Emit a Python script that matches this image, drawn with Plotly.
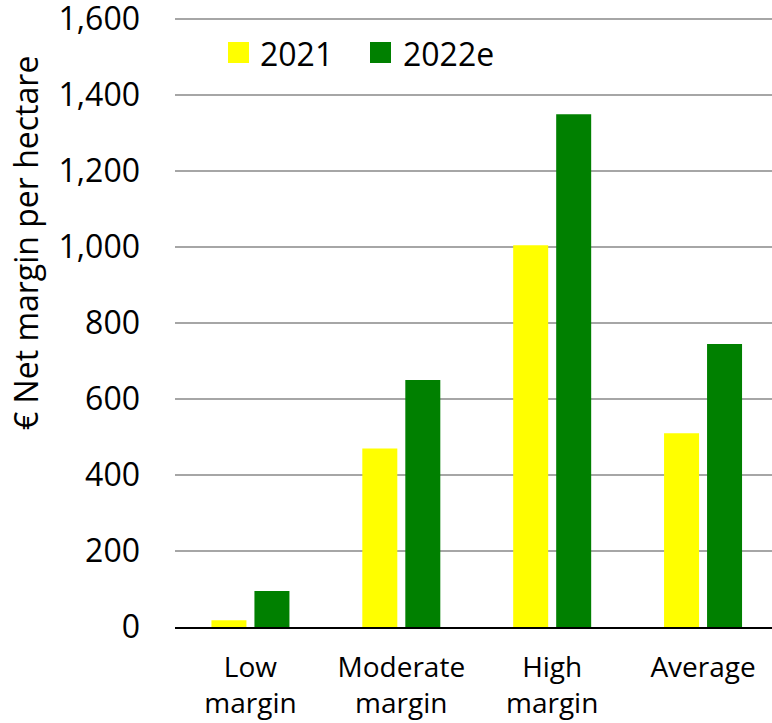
import plotly.graph_objects as go

# Net margin per hectare by farm group
categories = ["Low<br>margin", "Moderate<br>margin", "High<br>margin", "Average"]
series_names = ["2021", "2022e"]
values_2021 = [18, 470, 1005, 510]
values_2022e = [95, 650, 1350, 745]
series_colors = ["#FFFF00", "#008000"]
y_ticks = [0, 200, 400, 600, 800, 1000, 1200, 1400, 1600]
y_max = 1606  # a little headroom so the 1,600 gridline is not clipped

W, H = 772, 723
ML, MR, MT, MB = 175, 0, 17, 96
PW, PH = W - ML - MR, H - MT - MB

FONT = "Open Sans, Noto Sans, sans-serif"

fig = go.Figure()
for name, vals, col in zip(series_names, [values_2021, values_2022e], series_colors):
    fig.add_trace(go.Bar(
        x=list(range(len(categories))), y=vals, name=name,
        marker=dict(color=col, line=dict(width=0)),
        showlegend=False,
    ))


def px_x(p):
    return (p - ML) / PW


def px_y(p):
    return (H - MB - p) / PH


# Legend drawn as swatches + labels in the top-left area of the plot
legend_items = [(228, 258), (370, 401)]
shapes = []
annotations = []
for (sx, tx), name, col in zip(legend_items, series_names, series_colors):
    shapes.append(dict(type="rect", xref="paper", yref="paper",
                       x0=px_x(sx), x1=px_x(sx + 21),
                       y0=px_y(63), y1=px_y(42),
                       fillcolor=col, line=dict(width=0)))
    annotations.append(dict(xref="paper", yref="paper", x=px_x(tx), y=px_y(53),
                            text=name, showarrow=False, xanchor="left", yanchor="middle",
                            font=dict(family=FONT, size=32, color="black")))

annotations.append(dict(xref="paper", yref="paper", x=px_x(26), y=px_y(243),
                        text="€ Net margin per hectare", textangle=-90, showarrow=False,
                        xanchor="center", yanchor="middle",
                        font=dict(family=FONT, size=32, color="black")))

fig.update_layout(
    width=W, height=H,
    margin=dict(l=ML, r=MR, t=MT, b=MB, pad=0, autoexpand=False),
    paper_bgcolor="white", plot_bgcolor="white",
    barmode="group", bargap=0.43, bargroupgap=0.186,
    shapes=shapes, annotations=annotations,
    font=dict(family=FONT, color="black"),
)
fig.update_xaxes(
    tickmode="array", tickvals=list(range(len(categories))), ticktext=categories,
    range=[-0.5, 3.457], showgrid=False, zeroline=False, automargin=False,
    showline=True, linecolor="black", linewidth=2,
    ticks="", ticklabelstandoff=14,
    tickfont=dict(family=FONT, size=28, color="black"),
)
fig.update_yaxes(
    range=[0, y_max], tickmode="array", tickvals=y_ticks, tickformat=",",
    showgrid=True, gridcolor="#A6A6A6", gridwidth=1.5, automargin=False,
    zeroline=False, showline=False, ticks="", ticklabelstandoff=34,
    ticklabeloverflow="allow",
    tickfont=dict(family=FONT, size=32, color="black"),
)

fig.write_html("out.html")
